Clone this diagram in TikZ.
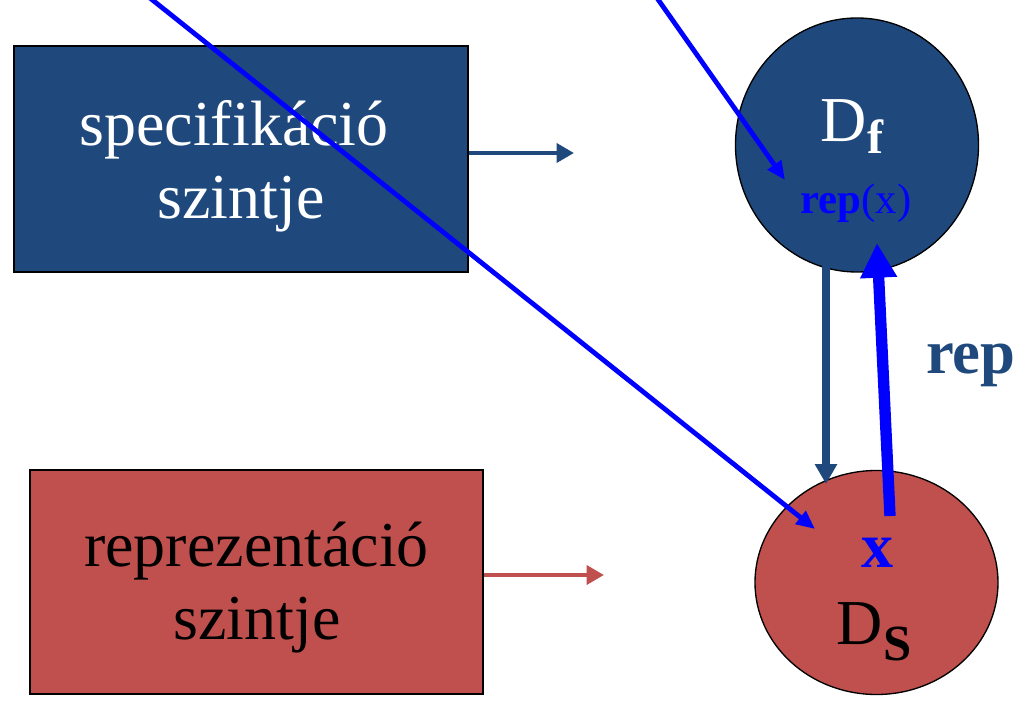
\documentclass[tikz,border=0pt]{standalone}
\usepackage{fontspec}
\setmainfont{Liberation Serif}
\usetikzlibrary{arrows.meta,shapes.geometric}
\definecolor{specblue}{RGB}{31,73,125}
\definecolor{repred}{RGB}{192,80,77}
\definecolor{mapblue}{RGB}{0,0,255}
\tikzset{
  box/.style={draw=black, line width=1.5pt, inner sep=0pt},
  dom/.style={ellipse, draw=black, line width=1pt, inner sep=0pt},
  big/.style={font=\fontsize{48}{55}\selectfont},
  levelarrow/.style={line width=3.6pt, -{Triangle[length=13pt,width=14pt]}},
  thin map/.style={draw=mapblue, line width=3.6pt, -{Triangle[length=14pt,width=12pt]}},
}
\begin{document}
\begin{tikzpicture}[x=0.75pt,y=-0.75pt]
\useasboundingbox (0,0) rectangle (1018,706);

% level boxes
\node[box, fill=specblue, minimum width=340.5pt, minimum height=169.5pt] (spec) at (241,159) {};
\node[box, fill=repred, minimum width=339.75pt, minimum height=168pt] (repr) at (256.5,582) {};
\node[big, text=white, anchor=base] (spectext1) at (234,146) {specifikáció};
\node[big, text=white, anchor=base] (spectext2) at (241,219) {szintje};
\node[big, text=black, anchor=base] (reprtext1) at (256.5,566) {reprezentáció};
\node[big, text=black, anchor=base] (reprtext2) at (257,639) {szintje};

% domains
\node[dom, fill=specblue, minimum width=182.25pt, minimum height=190.5pt] (Df) at (857,145) {};
\node[dom, fill=repred, minimum width=182.25pt, minimum height=168pt] (Ds) at (876.5,582.5) {};

\node[big, text=white, anchor=base] (Dftext) at (852,142) {D\textbf{\fontsize{36}{36}\selectfont\raisebox{-9pt}{f}}};
\node[font=\fontsize{32}{32}\selectfont\bfseries, text=mapblue, anchor=base] (repx) at (856,214) {rep\mdseries(x)};
\node[text=mapblue, anchor=base, font=\fontsize{48}{48}\selectfont\bfseries] (xval) at (877,567) {x};
\node[big, text=black, anchor=base] (Dstext) at (874,644) {D\textbf{\fontsize{38}{38}\selectfont\raisebox{-12pt}{S}}};

% mapping label
\node[font=\fontsize{47}{47}\selectfont\bfseries, text=specblue, anchor=base west, inner sep=0pt] (replabel) at (926,373) {rep};

% level arrows
\coordinate (specend) at (574,153);
\coordinate (reprend) at (604,575);
\draw[levelarrow, specblue] (spec.east |- specend) -- (specend);
\draw[levelarrow, repred, line width=3.4pt] (repr.east |- reprend) -- (reprend);

% abstraction arrow between the domains
\coordinate (absstart) at (826,266);
\coordinate (absend) at (826,484);
\draw[specblue, line width=6pt, -{Triangle[length=15pt,width=16pt]}] (absstart) -- (absend);

% representation function
\coordinate (repstart) at (890,516);
\coordinate (repend) at (877,243);
\draw[mapblue, line width=8.5pt, -{Triangle[length=26pt,width=26pt]}] (repstart) -- (repend);

% pointers from outside
\coordinate (p1start) at (150,-2);
\coordinate (p1end) at (815,529);
\coordinate (p2start) at (657,-2);
\coordinate (p2end) at (785,180);
\draw[thin map] (p1start) -- (p1end);
\draw[thin map] (p2start) -- (p2end);
\end{tikzpicture}
\end{document}
